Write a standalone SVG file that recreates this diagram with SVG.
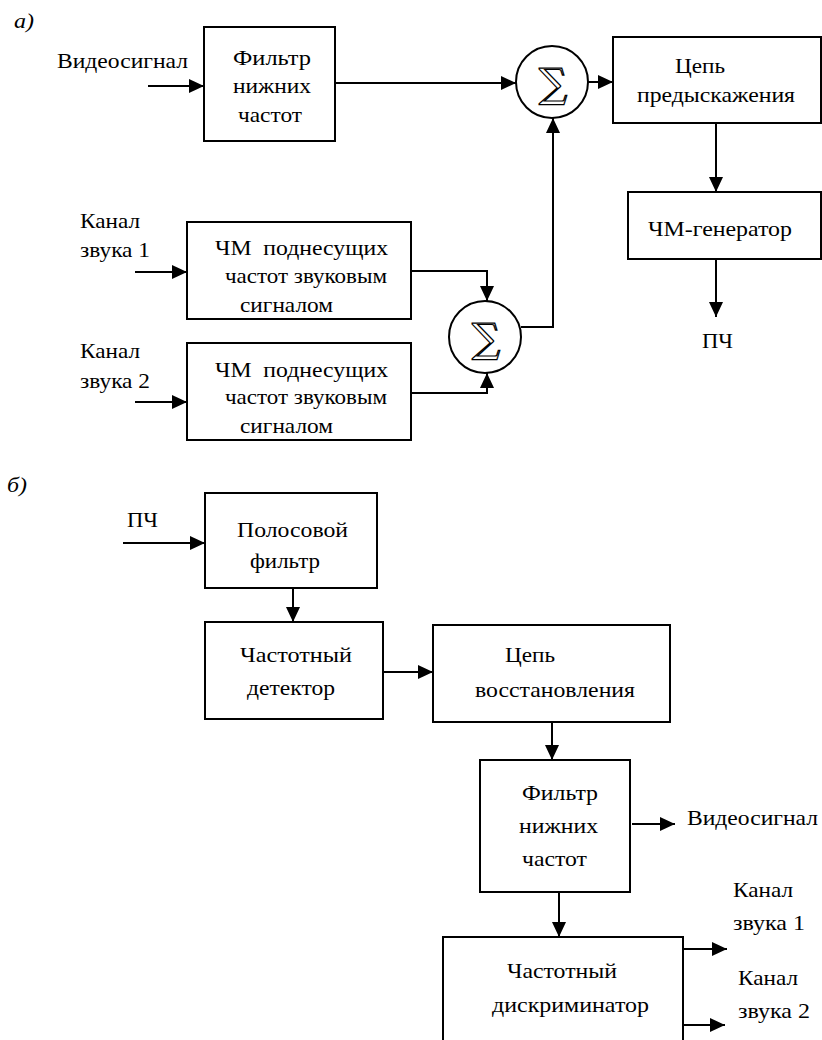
<svg xmlns="http://www.w3.org/2000/svg" width="822" height="1040" viewBox="0 0 822 1040">
<style>
.b{fill:#fff;stroke:#000;stroke-width:2}
.c{fill:none;stroke:#000;stroke-width:2}
.t{font-family:"Liberation Serif",serif;font-size:21px;fill:#000}
.i{font-style:italic}
.s{font-family:"DejaVu Serif",serif;font-size:40px;fill:#fff;stroke:#000;stroke-width:1.2}
</style>
<defs>
<marker id="a" markerUnits="userSpaceOnUse" markerWidth="16" markerHeight="14" refX="15" refY="7" orient="auto">
<path d="M0,0 L15,7 L0,14 z" fill="#000"/>
</marker>
</defs>
<rect width="822" height="1040" fill="#fff"/>

<g id="connectors" class="c" marker-end="url(#a)">
<path d="M148,86 H204"/>
<path d="M335,83 H516"/>
<path d="M588,82 H613"/>
<path d="M716,123 V192"/>
<path d="M716,259 V317"/>
<path d="M135,272 H187"/>
<path d="M135,402 H187"/>
<path d="M411,271 H487 V301"/>
<path d="M411,393 H487 V373"/>
<path d="M521,327 H553 V118"/>
<path d="M123,543 H205"/>
<path d="M293,586 V622"/>
<path d="M383,672 H433"/>
<path d="M552,722 V760"/>
<path d="M632,824 H675"/>
<path d="M559,892 V937"/>
<path d="M683,949 H727"/>
<path d="M683,1025 H725"/>
</g>

<g id="labels">
<text class="t i" x="14" y="28" textLength="20" lengthAdjust="spacingAndGlyphs">а)</text>
<text class="t i" x="7" y="492" textLength="20" lengthAdjust="spacingAndGlyphs">б)</text>
</g>
<g id="in-video"><text class="t" x="57" y="68" textLength="131" lengthAdjust="spacingAndGlyphs">Видеосигнал</text></g>
<g id="lpf1">
<rect class="b" x="204" y="27" width="131" height="114"/>
<text class="t" x="233" y="65" textLength="78" lengthAdjust="spacingAndGlyphs">Фильтр</text>
<text class="t" x="233" y="93" textLength="78" lengthAdjust="spacingAndGlyphs">нижних</text>
<text class="t" x="238" y="122" textLength="64" lengthAdjust="spacingAndGlyphs">частот</text>
</g>
<g id="sum1">
<circle class="b" cx="552" cy="82" r="36"/>
<text class="s" x="553" y="97" text-anchor="middle">∑</text>
</g>
<g id="predist">
<rect class="b" x="613" y="37" width="208" height="86"/>
<text class="t" x="675" y="73" textLength="50" lengthAdjust="spacingAndGlyphs">Цепь</text>
<text class="t" x="637" y="102" textLength="158" lengthAdjust="spacingAndGlyphs">предыскажения</text>
</g>
<g id="fmgen">
<rect class="b" x="628" y="192" width="193" height="67"/>
<text class="t" x="648" y="236" textLength="144" lengthAdjust="spacingAndGlyphs">ЧМ-генератор</text>
</g>
<g id="out-if"><text class="t" x="702" y="348" textLength="31" lengthAdjust="spacingAndGlyphs">ПЧ</text></g>

<g id="in-ch1">
<text class="t" x="80" y="228" textLength="60" lengthAdjust="spacingAndGlyphs">Канал</text>
<text class="t" x="80" y="257" textLength="70" lengthAdjust="spacingAndGlyphs">звука 1</text>
</g>
<g id="fm1">
<rect class="b" x="187" y="222" width="224" height="97"/>
<text class="t" x="215" y="255" xml:space="preserve" textLength="173" lengthAdjust="spacingAndGlyphs">ЧМ  поднесущих</text>
<text class="t" x="225" y="283" textLength="162" lengthAdjust="spacingAndGlyphs">частот звуковым</text>
<text class="t" x="240" y="312" textLength="93" lengthAdjust="spacingAndGlyphs">сигналом</text>
</g>
<g id="in-ch2">
<text class="t" x="80" y="358" textLength="60" lengthAdjust="spacingAndGlyphs">Канал</text>
<text class="t" x="80" y="388" textLength="70" lengthAdjust="spacingAndGlyphs">звука 2</text>
</g>
<g id="fm2">
<rect class="b" x="187" y="343" width="224" height="97"/>
<text class="t" x="215" y="377" xml:space="preserve" textLength="173" lengthAdjust="spacingAndGlyphs">ЧМ  поднесущих</text>
<text class="t" x="225" y="404" textLength="162" lengthAdjust="spacingAndGlyphs">частот звуковым</text>
<text class="t" x="240" y="433" textLength="93" lengthAdjust="spacingAndGlyphs">сигналом</text>
</g>
<g id="sum2">
<circle class="b" cx="485" cy="337" r="36"/>
<text class="s" x="486" y="352" text-anchor="middle">∑</text>
</g>

<g id="in-if"><text class="t" x="127" y="527" textLength="31" lengthAdjust="spacingAndGlyphs">ПЧ</text></g>
<g id="bpf">
<rect class="b" x="205" y="493" width="172" height="95"/>
<text class="t" x="237" y="537" textLength="111" lengthAdjust="spacingAndGlyphs">Полосовой</text>
<text class="t" x="250" y="568" textLength="70" lengthAdjust="spacingAndGlyphs">фильтр</text>
</g>
<g id="fdet">
<rect class="b" x="205" y="622" width="178" height="97"/>
<text class="t" x="240" y="662" textLength="112" lengthAdjust="spacingAndGlyphs">Частотный</text>
<text class="t" x="247" y="695" textLength="88" lengthAdjust="spacingAndGlyphs">детектор</text>
</g>
<g id="restore">
<rect class="b" x="433" y="625" width="237" height="97"/>
<text class="t" x="505" y="662" textLength="50" lengthAdjust="spacingAndGlyphs">Цепь</text>
<text class="t" x="475" y="697" textLength="160" lengthAdjust="spacingAndGlyphs">восстановления</text>
</g>
<g id="lpf2">
<rect class="b" x="480" y="760" width="150" height="132"/>
<text class="t" x="522" y="800" textLength="76" lengthAdjust="spacingAndGlyphs">Фильтр</text>
<text class="t" x="519" y="833" textLength="79" lengthAdjust="spacingAndGlyphs">нижних</text>
<text class="t" x="522" y="866" textLength="65" lengthAdjust="spacingAndGlyphs">частот</text>
</g>
<g id="out-video"><text class="t" x="687" y="825" textLength="131" lengthAdjust="spacingAndGlyphs">Видеосигнал</text></g>
<g id="disc">
<rect class="b" x="443" y="937" width="240" height="120"/>
<text class="t" x="507" y="978" textLength="110" lengthAdjust="spacingAndGlyphs">Частотный</text>
<text class="t" x="492" y="1012" textLength="157" lengthAdjust="spacingAndGlyphs">дискриминатор</text>
</g>
<g id="out-ch1">
<text class="t" x="733" y="897" textLength="60" lengthAdjust="spacingAndGlyphs">Канал</text>
<text class="t" x="733" y="930" textLength="72" lengthAdjust="spacingAndGlyphs">звука 1</text>
</g>
<g id="out-ch2">
<text class="t" x="738" y="985" textLength="60" lengthAdjust="spacingAndGlyphs">Канал</text>
<text class="t" x="738" y="1018" textLength="72" lengthAdjust="spacingAndGlyphs">звука 2</text>
</g>
</svg>
